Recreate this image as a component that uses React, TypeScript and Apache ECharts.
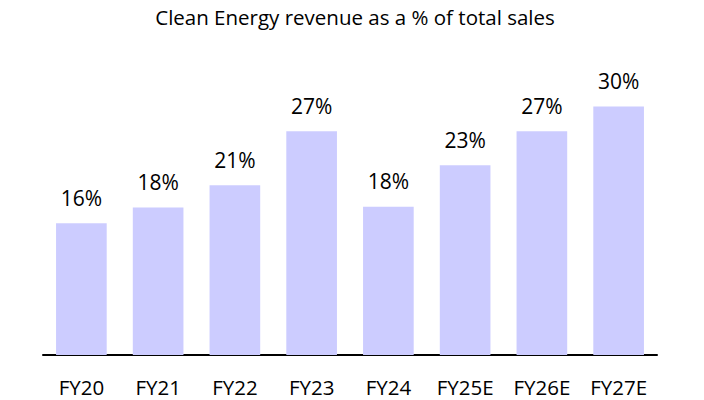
import React, { useEffect, useRef } from "react";
import * as echarts from "echarts";

const categories = ["FY20", "FY21", "FY22", "FY23", "FY24", "FY25E", "FY26E", "FY27E"];
const values = [15.9, 17.8, 20.5, 27.0, 17.9, 22.9, 27.0, 30.0];
const valueLabels = ["16%", "18%", "21%", "27%", "18%", "23%", "27%", "30%"];
const titleText = "Clean Energy revenue as a % of total sales";

const FONT = "'Open Sans', 'Noto Sans', sans-serif";

export default function App() {
  const ref = useRef<HTMLDivElement>(null);
  useEffect(() => {
    if (!ref.current) return;
    const chart = echarts.init(ref.current, null, { renderer: "svg" });
    chart.setOption({
      animation: false,
      backgroundColor: "#ffffff",
      title: {
        text: titleText,
        left: 350,
        textAlign: "center",
        top: 1,
        textStyle: { fontFamily: FONT, fontSize: 20.5, fontWeight: "normal", color: "#000000" },
      },
      grid: { left: 43, right: 47, top: 65, bottom: 45 },
      xAxis: {
        type: "category",
        data: categories,
        axisLine: { show: true, lineStyle: { color: "#000000", width: 2 } },
        axisTick: { show: false },
        axisLabel: { fontFamily: FONT, fontSize: 20.5, color: "#000000", margin: 21 },
      },
      yAxis: {
        type: "value",
        min: 0,
        max: 35,
        show: false,
        splitLine: { show: false },
      },
      series: [
        {
          type: "bar",
          data: values,
          barCategoryGap: "34%",
          itemStyle: { color: "#ccccff" },
          label: {
            show: true,
            position: "top",
            distance: 15,
            fontFamily: FONT,
            fontSize: 21,
            color: "#000000",
            formatter: (p: any) => valueLabels[p.dataIndex],
          },
        },
      ],
    });
    return () => chart.dispose();
  }, []);
  return (
    <div
      ref={ref}
      style={{ position: "fixed", left: 0, top: 0, width: 704, height: 400 }}
    />
  );
}
